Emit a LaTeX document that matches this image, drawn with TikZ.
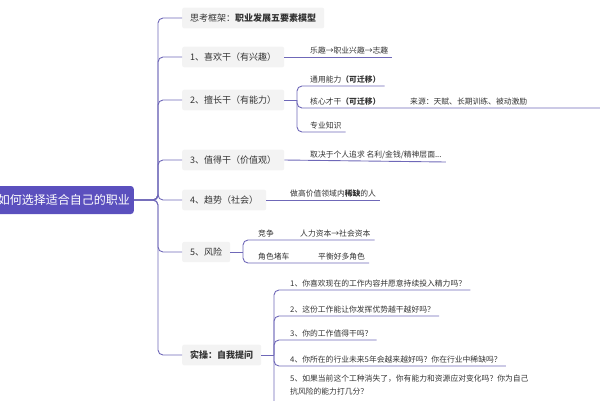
\documentclass[tikz,border=0pt]{standalone}
\usepackage{fontspec}
\setmainfont{Noto Sans CJK SC}
\usetikzlibrary{positioning}
\definecolor{rootbg}{HTML}{5B50BE}
\definecolor{linkc}{HTML}{6F68B8}
\definecolor{boxbg}{HTML}{F3F3F3}
\tikzset{
  topic/.style={fill=boxbg, rounded corners=2pt, inner xsep=8pt, inner ysep=6pt, font=\fontsize{9}{11}\selectfont, text=black!80},
  leaf/.style={anchor=south west, inner xsep=4pt, inner ysep=3pt, font=\fontsize{7.8}{13}\selectfont, text=black!80},
  link/.style={draw=linkc, line width=0.9pt, rounded corners=5pt},
}
\begin{document}
\begin{tikzpicture}[x=1pt, y=-1pt]
  \useasboundingbox (0,0) rectangle (600,400);

  % --- 中心主题 ---
  \node[fill=rootbg, rounded corners=3pt, text=white, font=\fontsize{12}{14}\selectfont,
        minimum height=28pt, anchor=east, inner xsep=4pt] (root) at (134,200) {如何选择适合自己的职业};

  % --- 一级主题 ---
  \node[topic, anchor=west] (t0) at (182,18) {思考框架：\textbf{职业发展五要素模型}};
  \node[topic, anchor=west] (t1) at (182,57) {1、喜欢干（有兴趣）};
  \node[topic, anchor=west] (t2) at (182,100) {2、擅长干（有能力）};
  \node[topic, anchor=west] (t3) at (182,160) {3、值得干（价值观）};
  \node[topic, anchor=west] (t4) at (182,200) {4、趋势（社会）};
  \node[topic, anchor=west] (t5) at (182,252) {5、风险};
  \node[topic, anchor=west, font=\fontsize{9}{11}\selectfont\bfseries] (t6) at (182,355) {实操：自我提问};

  \coordinate (trunk) at (158,200);
  \foreach \t in {t0,t1,t2,t3,t4,t5,t6} {
    \draw[link] (root.east) -- (trunk) |- (\t.west);
  }

  % --- 二级主题 ---
  \node[leaf] (a1) at (306,57) {乐趣→职业兴趣→志趣};
  \draw[link] (t1.east) -- (a1.south east);

  \node[leaf] (b1) at (306,86) {通用能力\textbf{（可迁移）}};
  \node[leaf] (b2) at (306,108) {核心才干\textbf{（可迁移）}};
  \node[leaf] (b3) at (306,132) {专业知识};
  \node[leaf] (b4) at (406,108) {来源：天赋、长期训练、被动激励};
  \coordinate (b0) at (297,100);
  \coordinate (bend) at (600,108);
  \draw[link] (t2.east) -- (b0);
  \draw[link] (b1.south east) -| (b0) |- (b3.south east);
  \draw[link] (b0) |- (b2.south west) -- (bend);

  \node[leaf] (c1) at (306,162) {取决于个人追求 名利/金钱/精神层面...};
  \draw[link] (t3.east) -- (c1.south east);

  \node[leaf] (d1) at (286,200) {做高价值领域内\textbf{稀缺}的人};
  \draw[link] (t4.east) -- (d1.south east);

  \node[leaf] (e1) at (254,240) {竞争};
  \node[leaf] (e2) at (254,263) {角色堵车};
  \node[leaf] (e3) at (296,240) {人力资本→社会资本};
  \node[leaf] (e4) at (314,263) {平衡好多角色};
  \coordinate (e0) at (243,252);
  \draw[link] (t5.east) -- (e0);
  \draw[link] (e3.south east) -| (e0) |- (e4.south east);

  \node[leaf] (f1) at (286,290) {1、你喜欢现在的工作内容并愿意持续投入精力吗？};
  \node[leaf] (f2) at (286,316) {2、这份工作能让你发挥优势越干越好吗？};
  \node[leaf] (f3) at (286,340) {3、你的工作值得干吗？};
  \node[leaf] (f4) at (286,366) {4、你所在的行业未来5年会越来越好吗？你在行业中稀缺吗？};
  \node[leaf, align=left, anchor=north west] (f5) at (286,372) {5、如果当前这个工种消失了，你有能力和资源应对变化吗？你为自己\\抗风险的能力打几分？};
  \coordinate (f0) at (274,355);
  \coordinate (fend) at (274,410);
  \draw[link] (t6.east) -- (f0);
  \draw[link] (f1.south east) -| (fend);
  \foreach \f in {f2,f3,f4} {
    \draw[link] (\f.south east) -| (f0);
  }
\end{tikzpicture}
\end{document}
